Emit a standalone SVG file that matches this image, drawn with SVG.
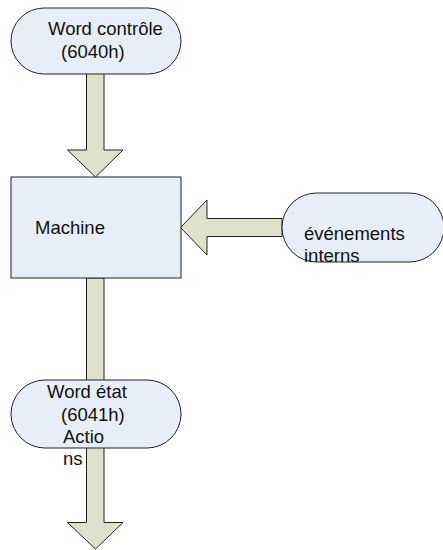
<svg xmlns="http://www.w3.org/2000/svg" width="443" height="550" viewBox="0 0 443 550">
<style>
.shape{fill:#e8eef8;stroke:#222;stroke-width:1}
.arrow{fill:#dee2cd;stroke:#222;stroke-width:1}
.t{font-family:"Liberation Sans",Arial,sans-serif;font-size:18.5px;fill:#111}
</style>
<rect width="443" height="550" fill="#fff"/>
<g id="connectors">
<path class="arrow" d="M86.5,70 H104 V150 H123 L95.5,177 L67.5,150 H86.5 Z"/>
<path class="arrow" d="M282,218.5 V236.5 H207 V255 L180.5,227.5 L207,200 V218.5 Z"/>
<path class="arrow" d="M86.5,278 H104 V522.5 H123 L95.5,549 L67.5,522.5 H86.5 Z"/>
</g>
<g id="word-controle">
<rect class="shape" x="11" y="8" width="170" height="66" rx="33"/>
<text class="t" x="48" y="35">Word contrôle</text>
<text class="t" x="61" y="57.5">(6040h)</text>
</g>
<g id="machine">
<rect class="shape" x="11" y="177" width="170" height="101"/>
<text class="t" x="35" y="234">Machine</text>
</g>
<g id="evenements-interns">
<rect class="shape" x="282" y="193" width="162" height="69" rx="34.5"/>
<text class="t" x="304" y="240">événements</text>
<text class="t" x="304" y="262">interns</text>
</g>
<g id="word-etat">
<rect class="shape" x="11" y="380" width="170" height="68" rx="34"/>
<text class="t" x="47" y="398">Word état</text>
<text class="t" x="61" y="421">(6041h)</text>
<text class="t" x="63" y="443">Actio</text>
</g>
<g id="actions-label">
<text class="t" x="63" y="465">ns</text>
</g>
</svg>
